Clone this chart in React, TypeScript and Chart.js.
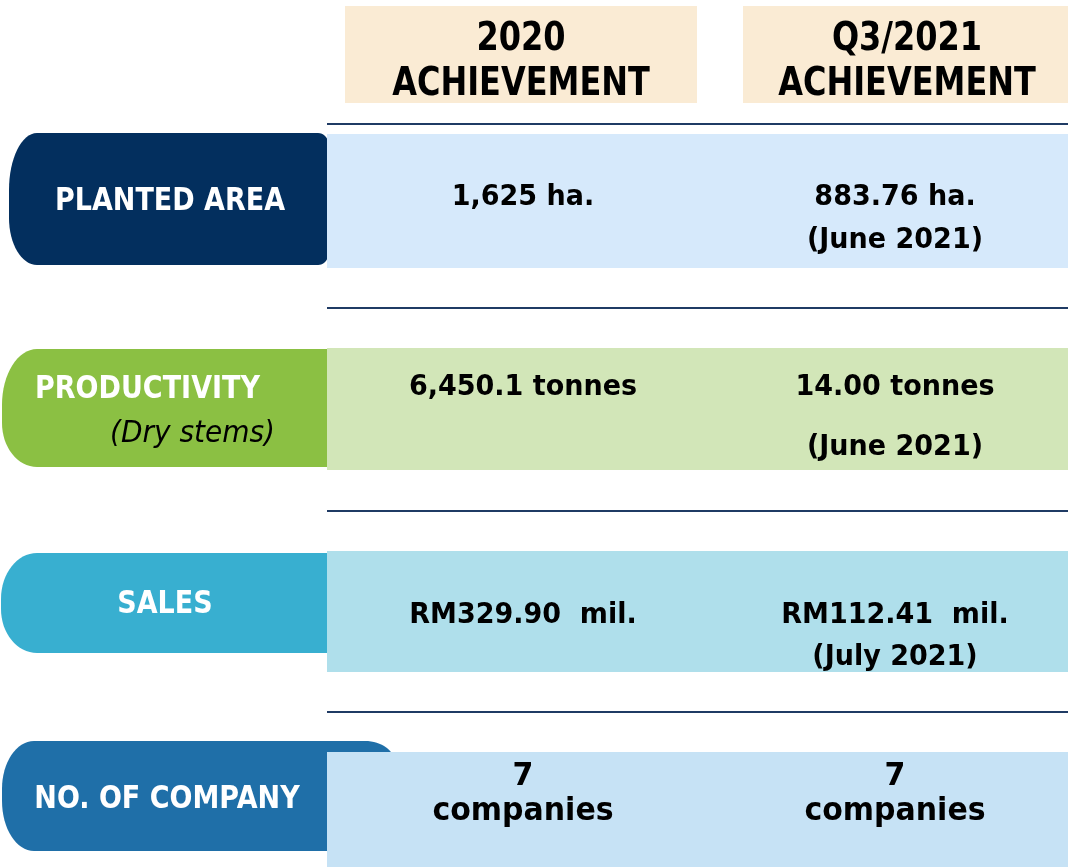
import React, { useEffect, useRef } from "react";
import { Chart, registerables } from "chart.js";

Chart.register(...registerables);

// ---- content ----
const headerLines: string[][] = [
  ["2020", "ACHIEVEMENT"],
  ["Q3/2021", "ACHIEVEMENT"],
];
const rowLabels: string[] = ["PLANTED AREA", "PRODUCTIVITY", "SALES", "NO. OF COMPANY"];
const rowSubLabels: string[] = ["", "(Dry stems)", "", ""];
const values2020: string[][] = [["1,625 ha."], ["6,450.1 tonnes"], ["RM329.90  mil."], ["7", "companies"]];
const valuesQ3: string[][] = [
  ["883.76 ha.", "(June 2021)"],
  ["14.00 tonnes", "(June 2021)"],
  ["RM112.41  mil.", "(July 2021)"],
  ["7", "companies"],
];

// ---- styles / layout (in scale units, 1 unit = 1px) ----
const W = 1071;
const H = 867;
const pillColors = ["#032F5E", "#8BC043", "#38AFD0", "#1F6FA8"];
const cellColors = ["#D6E9FB", "#D2E6B8", "#AFDFEB", "#C6E2F5"];
const headerColor = "#FAEBD4";
const ruleColor = "#1F3B64";
const headerBoxes = [
  { x0: 345, x1: 697, y0: 6, y1: 103, cx: 521 },
  { x0: 743, x1: 1068, y0: 6, y1: 103, cx: 907 },
];
const headerBaseY = [50, 95];
const rules = [124, 308, 511, 712];
const ruleX = [327, 1068];
const pills = [
  { x0: 9, x1: 328, y0: 133, y1: 265, rx: 28, ryT: 57, ryB: 47, rxR: 10, ryR: 10 },
  { x0: 2, x1: 328, y0: 349, y1: 467, rx: 35, ryT: 56, ryB: 44, rxR: 0, ryR: 0 },
  { x0: 1, x1: 328, y0: 553, y1: 653, rx: 36, ryT: 46, ryB: 44, rxR: 0, ryR: 0 },
  { x0: 2, x1: 395, y0: 741, y1: 851, rx: 32, ryT: 48, ryB: 50, rxR: 30, ryR: 22 },
];
const cells = [
  { y0: 134, y1: 268 },
  { y0: 348, y1: 470 },
  { y0: 551, y1: 672 },
  { y0: 752, y1: 867 },
];
const cellX = [327, 1068];
const labelPos = [
  { x: 170, y: 210, align: "center" },
  { x: 35, y: 398, align: "left" },
  { x: 165, y: 613, align: "center" },
  { x: 167, y: 808, align: "center" },
];
const subLabelPos = [null, { x: 275, y: 442 }, null, null];
const colX = [523, 895];
const valueBaseY = [
  [205, 248],
  [395, 455],
  [623, 665],
  [785, 820],
];
const valueFontSize = [27, 27, 27, 30];

const FONT = "'DejaVu Sans', 'Liberation Sans', sans-serif";

function pillPath(ctx: CanvasRenderingContext2D, p: any, px: (v: number) => number, py: (v: number) => number) {
  const x0 = px(p.x0), x1 = px(p.x1), y0 = py(p.y0), y1 = py(p.y1);
  const k = 0.4477;
  ctx.beginPath();
  ctx.moveTo(x0 + p.rx, y0);
  ctx.lineTo(x1 - p.rxR, y0);
  if (p.rxR > 0) ctx.bezierCurveTo(x1 - p.rxR * k, y0, x1, y0 + p.ryR * k, x1, y0 + p.ryR);
  const br = Math.min(p.rxR, 10);
  ctx.lineTo(x1, y1 - br);
  if (br > 0) ctx.bezierCurveTo(x1, y1 - br * k, x1 - br * k, y1, x1 - br, y1);
  ctx.lineTo(x0 + p.rx, y1);
  ctx.bezierCurveTo(x0 + p.rx * k, y1, x0, y1 - p.ryB * k, x0, y1 - p.ryB);
  ctx.lineTo(x0, y0 + p.ryT);
  ctx.bezierCurveTo(x0, y0 + p.ryT * k, x0 + p.rx * k, y0, x0 + p.rx, y0);
  ctx.closePath();
}

function drawText(ctx: CanvasRenderingContext2D, t: string, x: number, y: number, font: string, align: string, sy: number) {
  ctx.save();
  ctx.font = font;
  ctx.textAlign = align as CanvasTextAlign;
  ctx.textBaseline = "alphabetic";
  ctx.translate(x, y);
  ctx.scale(1, sy);
  ctx.fillText(t, 0, 0);
  ctx.restore();
}

const infographicPlugin = {
  id: "infographic",
  beforeDatasetsDraw(chart: any) {
    const ctx: CanvasRenderingContext2D = chart.ctx;
    const xs = chart.scales.x;
    const ys = chart.scales.y;
    const px = (v: number) => xs.getPixelForValue(v);
    const py = (v: number) => ys.getPixelForValue(v);
    ctx.save();
    ctx.fillStyle = "#ffffff";
    ctx.fillRect(0, 0, chart.width, chart.height);

    // header boxes
    headerBoxes.forEach((b, i) => {
      ctx.fillStyle = headerColor;
      ctx.fillRect(px(b.x0), py(b.y0), px(b.x1) - px(b.x0), py(b.y1) - py(b.y0));
      ctx.fillStyle = "#000";
      headerLines[i].forEach((t, j) => {
        drawText(ctx, t, px(b.cx), py(headerBaseY[j]), `bold 32px ${FONT}`, "center", 1.2);
      });
    });

    // rules
    ctx.strokeStyle = ruleColor;
    ctx.lineWidth = 2;
    rules.forEach((y) => {
      ctx.beginPath();
      ctx.moveTo(px(ruleX[0]), py(y));
      ctx.lineTo(px(ruleX[1]), py(y));
      ctx.stroke();
    });

    // rows
    rowLabels.forEach((label, i) => {
      const p = pills[i];
      ctx.fillStyle = pillColors[i];
      pillPath(ctx, p, px, py);
      ctx.fill();
      const c = cells[i];
      ctx.fillStyle = cellColors[i];
      ctx.fillRect(px(cellX[0]), py(c.y0), px(cellX[1]) - px(cellX[0]), py(c.y1) - py(c.y0));

      // label
      const lp = labelPos[i];
      ctx.fillStyle = "#ffffff";
      drawText(ctx, label, px(lp.x), py(lp.y), `bold 27px ${FONT}`, lp.align, 1.2);
      const sp = subLabelPos[i];
      if (rowSubLabels[i] && sp) {
        ctx.fillStyle = "#000";
        drawText(ctx, rowSubLabels[i], px(sp.x), py(sp.y), `italic 28px ${FONT}`, "right", 1.05);
      }

      // values
      ctx.fillStyle = "#000";
      [values2020[i], valuesQ3[i]].forEach((lines, k) => {
        lines.forEach((t, j) => {
          drawText(ctx, t, px(colX[k]), py(valueBaseY[i][j]), `bold ${valueFontSize[i]}px ${FONT}`, "center", 1.05);
        });
      });
    });
    ctx.restore();
  },
};

export default function App() {
  const ref = useRef<HTMLCanvasElement | null>(null);
  useEffect(() => {
    document.body.style.margin = "0";
    document.body.style.overflow = "hidden";
    if (!ref.current) return;
    const chart = new Chart(ref.current, {
      type: "scatter",
      data: { datasets: [{ data: [] }] },
      options: {
        animation: false,
        responsive: false,
        devicePixelRatio: 1,
        layout: { padding: 0 },
        plugins: { legend: { display: false }, tooltip: { enabled: false } },
        scales: {
          x: { type: "linear", min: 0, max: W, display: false },
          y: { type: "linear", min: 0, max: H, reverse: true, display: false },
        },
      },
      plugins: [infographicPlugin],
    });
    return () => chart.destroy();
  }, []);
  return (
    <div style={{ width: W, height: H }}>
      <canvas ref={ref} width={W} height={H} style={{ display: "block" }} />
    </div>
  );
}
